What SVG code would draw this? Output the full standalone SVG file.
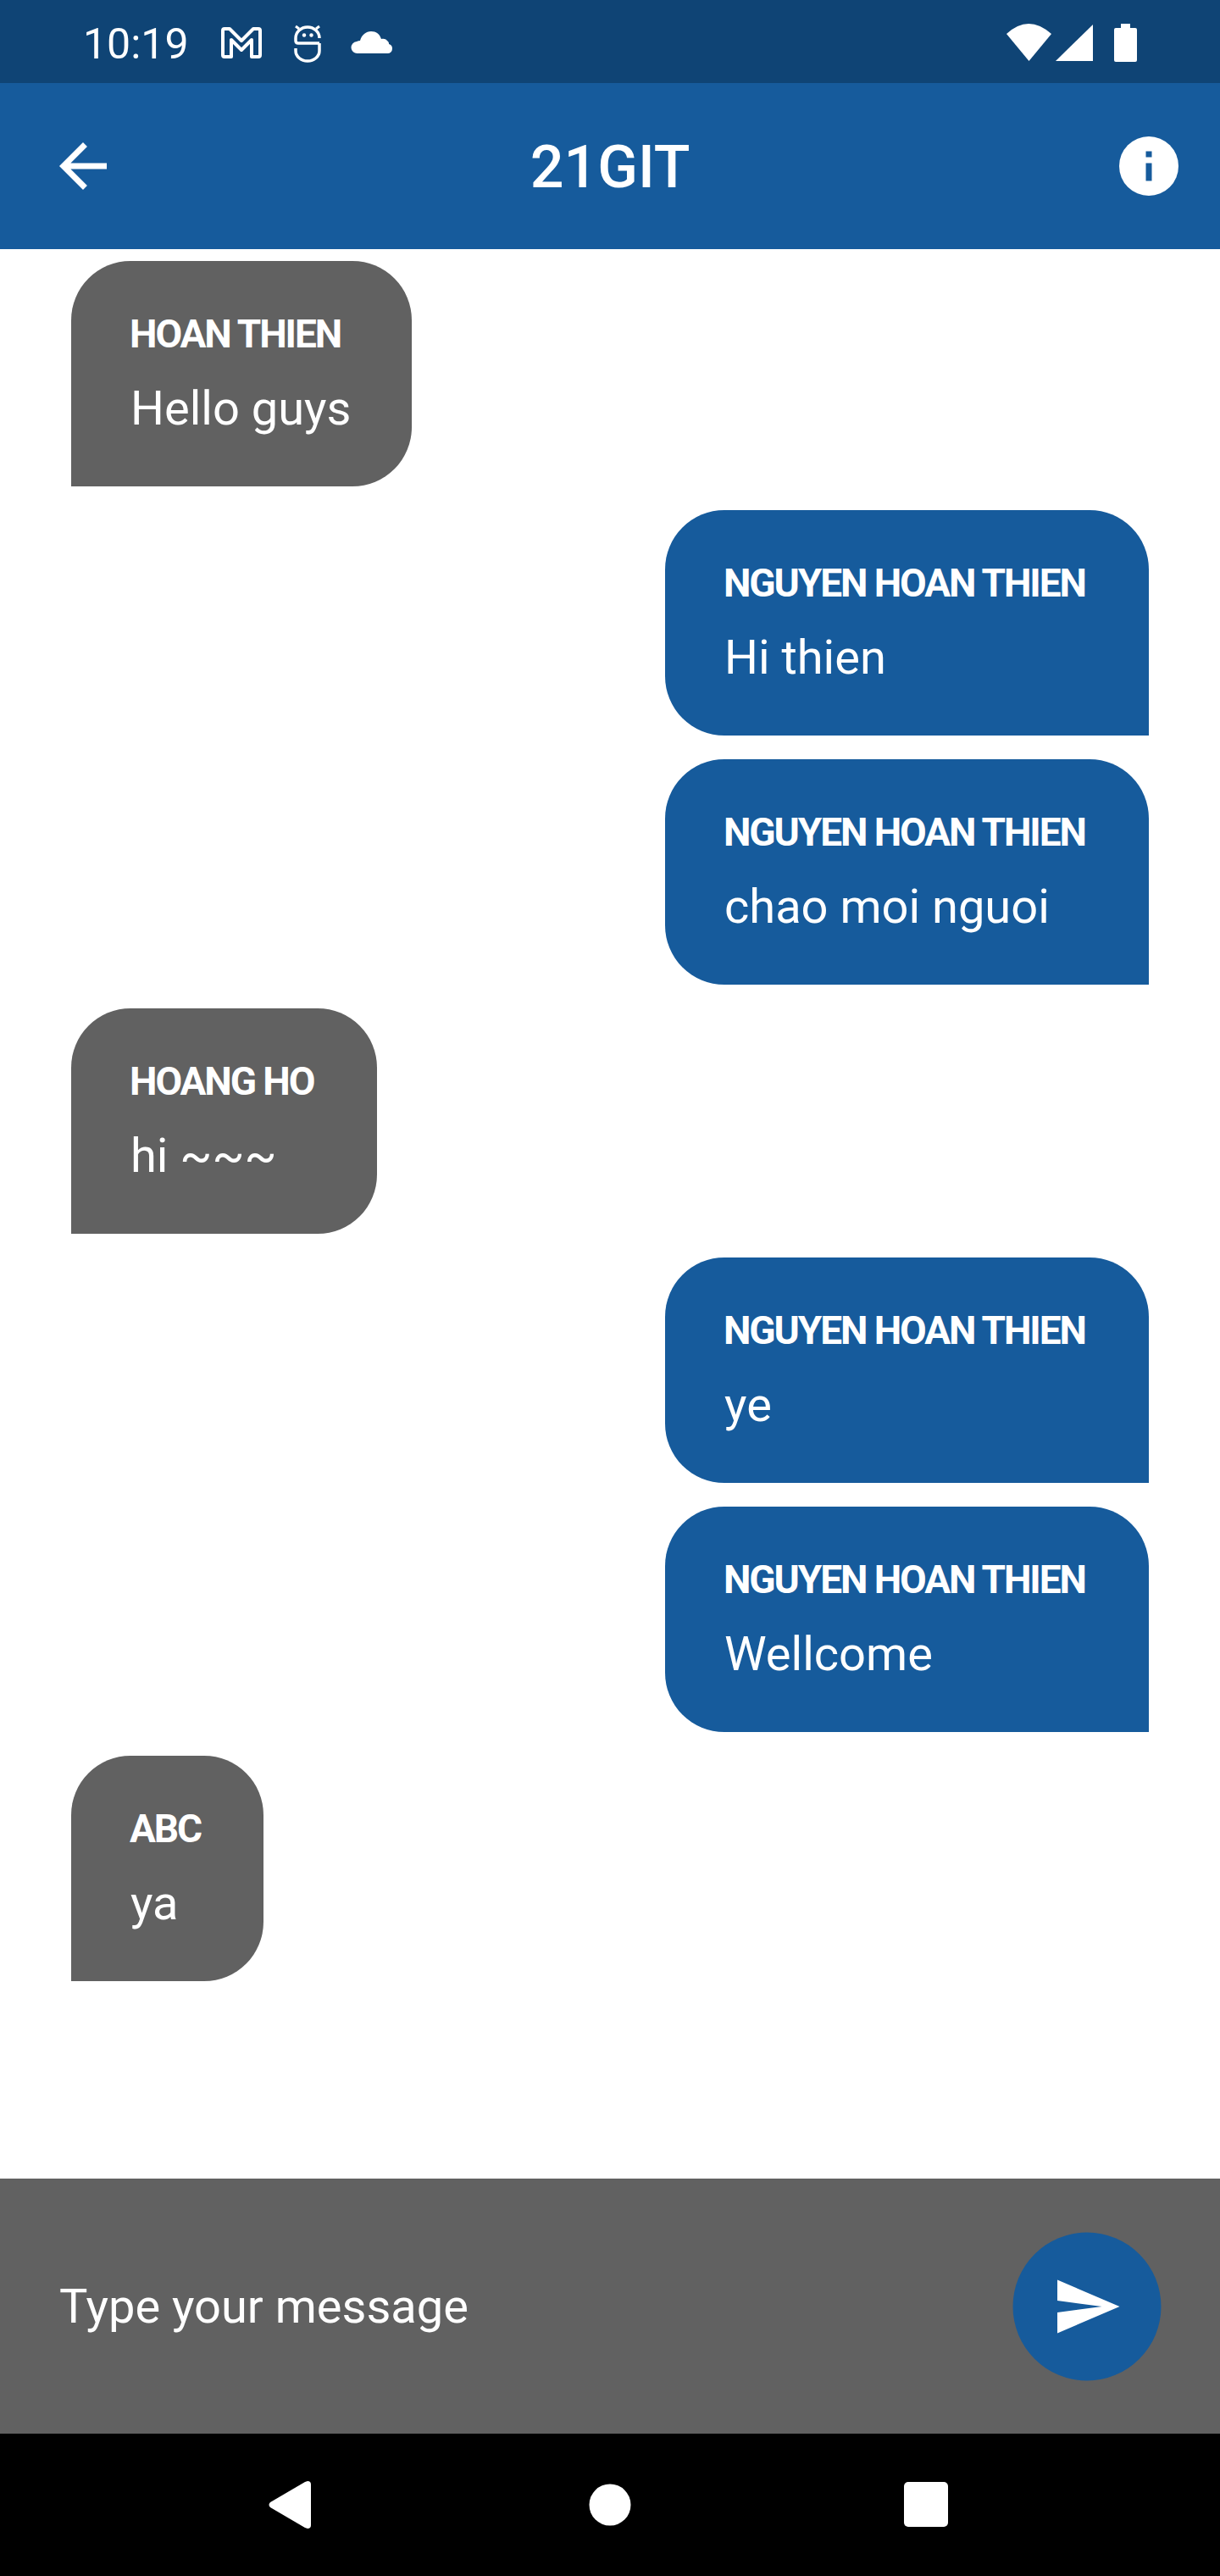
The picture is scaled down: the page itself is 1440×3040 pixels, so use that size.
<svg xmlns="http://www.w3.org/2000/svg" width="1440" height="3040" viewBox="0 0 1440 3040">
<style>
text{font-family:Roboto,"Liberation Sans",sans-serif;fill:#fff}
.n{font-size:46px;font-weight:700;letter-spacing:-2.100px}
.m{font-size:56px;font-weight:400}
.g{fill:#616161}.b{fill:#165B9C}.w{fill:#fff}
</style>
<rect width="1440" height="3040" fill="#fff"/>
<g id="status-bar">
<rect width="1440" height="98" fill="#0F4475"/>
<text x="98" y="69" font-size="50">10:19</text>
<path d="M263 65V36q0-2 2-2h6l14 14 14-14h6q2 0 2 2v29q0 2-2 2h-8V47l-12 12-12-12v20h-8q-2 0-2-2z" fill="none" stroke="#fff" stroke-width="4" stroke-linejoin="round"/>
<g fill="none" stroke="#fff" stroke-width="3.500"><path d="M377 45a14 13 0 0 0-28 0v3q0 3 3 3h25M377 51v9a14 12 0 0 1-28 0v-3"/><path d="M349 31l4 3M377 31l-4 3" stroke-width="3"/></g>
<circle cx="359" cy="41.500" r="2.200" class="w"/><circle cx="367.500" cy="41.500" r="2.200" class="w"/>
<path d="M422 63a7 7 0 0 1-1-14q2-1 4-1c2-7 7-11 13-11 6 0 10 3 12 9 3-1 6 0 8 3 1 1 1 2 1 3a5.500 5.500 0 0 1 4 5.500 5.500 5.500 0 0 1-5.500 5.500z" class="w"/>
<path d="M1188 40q26-24 53 0l-26.500 32z" class="w"/>
<path d="M1246 72l44-43v43z" class="w"/>
<path d="M1323 33v-5h11v5h6q2 0 2 2v36q0 2-2 2h-23q-2 0-2-2V35q0-2 2-2z" class="w"/>
</g>
<g id="app-bar">
<rect y="98" width="1440" height="196" class="b"/>
<path transform="translate(56 154) scale(3.500)" d="M20 11H7.830l5.590-5.590L12 4l-8 8 8 8 1.410-1.410L7.830 13H20v-2z" class="w"/>
<text x="720" y="221" font-size="70" font-weight="500" text-anchor="middle">21GIT</text>
<circle cx="1356" cy="196" r="35" class="w"/>
<rect x="1352.500" y="178.500" width="7" height="7" class="b"/>
<rect x="1352.500" y="192.500" width="7" height="21" class="b"/>
</g>
<g id="msg-1"><path d="M84 574V378a70 70 0 0 1 70-70H416a70 70 0 0 1 70 70V504a70 70 0 0 1-70 70z" class="g"/><text x="153" y="409.500" class="n">HOAN THIEN</text><text x="154" y="500.500" class="m">Hello guys</text></g>
<g id="msg-2"><path d="M1356 868V672a70 70 0 0 0-70-70H855a70 70 0 0 0-70 70V798a70 70 0 0 0 70 70z" class="b"/><text x="854" y="703.500" class="n">NGUYEN HOAN THIEN</text><text x="855" y="794.500" class="m">Hi thien</text></g>
<g id="msg-3"><path d="M1356 1162V966a70 70 0 0 0-70-70H855a70 70 0 0 0-70 70V1092a70 70 0 0 0 70 70z" class="b"/><text x="854" y="997.500" class="n">NGUYEN HOAN THIEN</text><text x="855" y="1088.500" class="m">chao moi nguoi</text></g>
<g id="msg-4"><path d="M84 1456V1260a70 70 0 0 1 70-70H375a70 70 0 0 1 70 70V1386a70 70 0 0 1-70 70z" class="g"/><text x="153" y="1291.500" class="n">HOANG HO</text><text x="154" y="1382.500" class="m">hi ~~~</text></g>
<g id="msg-5"><path d="M1356 1750V1554a70 70 0 0 0-70-70H855a70 70 0 0 0-70 70V1680a70 70 0 0 0 70 70z" class="b"/><text x="854" y="1585.500" class="n">NGUYEN HOAN THIEN</text><text x="855" y="1676.500" class="m">ye</text></g>
<g id="msg-6"><path d="M1356 2044V1848a70 70 0 0 0-70-70H855a70 70 0 0 0-70 70V1974a70 70 0 0 0 70 70z" class="b"/><text x="854" y="1879.500" class="n">NGUYEN HOAN THIEN</text><text x="855" y="1970.500" class="m">Wellcome</text></g>
<g id="msg-7"><path d="M84 2338V2142a70 70 0 0 1 70-70H241a70 70 0 0 1 70 70V2268a70 70 0 0 1-70 70z" class="g"/><text x="153" y="2173.500" class="n">ABC</text><text x="154" y="2264.500" class="m">ya</text></g>
<g id="composer">
<rect y="2571" width="1440" height="301" class="g"/>
<text x="70" y="2741" class="m">Type your message</text>
<circle cx="1283" cy="2722" r="87.500" class="b"/>
<path transform="translate(1241 2680) scale(3.500)" d="M2.010 21L23 12 2.010 3 2 10l15 2-15 2z" class="w"/>
</g>
<g id="nav-bar">
<rect y="2872" width="1440" height="168"/>
<path d="M367 2932v48q0 4-4 4l-3-1-41-24q-3-3 0-6l41-24 3-1q4 0 4 4z" class="w"/>
<circle cx="720" cy="2956" r="24.500" class="w"/>
<rect x="1067" y="2929" width="52" height="53" rx="5" class="w"/>
</g>
</svg>
